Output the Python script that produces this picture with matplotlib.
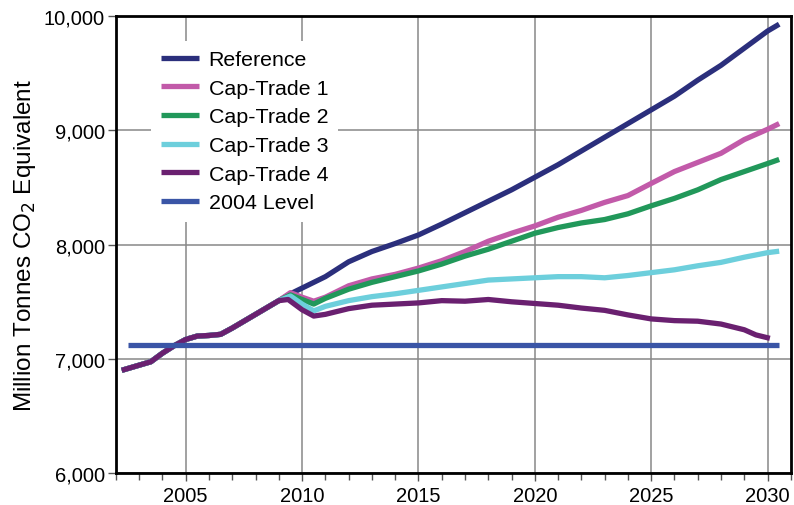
import matplotlib
matplotlib.use("Agg")
import matplotlib.pyplot as plt
from matplotlib.ticker import FuncFormatter, MultipleLocator

plt.rcParams['font.family'] = ['Liberation Sans', 'DejaVu Sans']

# ---------- Data ----------
early_years = [2002.25, 2002.75, 2003.5, 2004, 2004.5, 2005, 2005.5, 2006, 2006.5, 2007, 2008, 2009]
early_vals  = [6900, 6930, 6975, 7050, 7115, 7170, 7200, 7205, 7215, 7270, 7390, 7510]

late_years = [2009.5, 2010, 2010.5, 2011, 2012, 2013, 2014, 2015, 2016, 2017, 2018, 2019, 2020,
              2021, 2022, 2023, 2024, 2025, 2026, 2027, 2028, 2029, 2030, 2030.5]

reference = [7570, 7620, 7670, 7720, 7850, 7940, 8010, 8085, 8180, 8280, 8380, 8480, 8590,
             8700, 8820, 8940, 9060, 9180, 9300, 9440, 9570, 9720, 9870, 9930]
cap_trade_1 = [7580, 7540, 7505, 7540, 7640, 7700, 7740, 7795, 7860, 7940, 8030, 8100, 8164,
               8240, 8300, 8370, 8430, 8536, 8640, 8720, 8800, 8920, 9010, 9060]
cap_trade_2 = [7560, 7520, 7480, 7530, 7610, 7670, 7720, 7770, 7830, 7900, 7960, 8030, 8100,
               8150, 8190, 8220, 8270, 8340, 8405, 8480, 8570, 8640, 8710, 8746]
cap_trade_3 = [7550, 7480, 7420, 7460, 7510, 7545, 7570, 7600, 7630, 7660, 7690, 7700, 7710,
               7720, 7720, 7710, 7730, 7755, 7780, 7815, 7845, 7890, 7930, 7943]

ct4_years = [2009.4, 2010, 2010.5, 2011, 2012, 2013, 2014, 2015, 2016, 2017, 2018, 2019, 2020,
             2021, 2022, 2023, 2024, 2025, 2026, 2027, 2028, 2029, 2029.5, 2030.1]
cap_trade_4 = [7520, 7430, 7375, 7390, 7440, 7470, 7480, 7490, 7510, 7505, 7520, 7500, 7485,
               7470, 7445, 7425, 7385, 7350, 7335, 7330, 7305, 7255, 7210, 7180]

level_2004 = 7120
level_span = [2002.5, 2030.5]

series = [
    ("Reference",   late_years, reference,   "#2b2f7c"),
    ("Cap-Trade 1", late_years, cap_trade_1, "#c25aa9"),
    ("Cap-Trade 2", late_years, cap_trade_2, "#21985a"),
    ("Cap-Trade 3", late_years, cap_trade_3, "#6dcfdc"),
    ("Cap-Trade 4", ct4_years,  cap_trade_4, "#6a2070"),
]

# ---------- Plot ----------
fig = plt.figure(figsize=(7.94, 5.06), dpi=100)
ax = fig.add_axes([0.146, 0.063, 0.850, 0.903])

lw = 3.8
for name, xs, ys, color in series:
    ax.plot(early_years + xs, early_vals + ys, color=color, lw=lw, label=name,
            solid_capstyle="butt", zorder=3)
ax.plot(level_span, [level_2004, level_2004], color="#3a55a6", lw=lw, label="2004 Level",
        solid_capstyle="butt", zorder=3)

ax.set_xlim(2002, 2031)
ax.set_ylim(6000, 10000)
ax.set_xticks([2005, 2010, 2015, 2020, 2025, 2030])
ax.xaxis.set_minor_locator(MultipleLocator(1))
ax.set_yticks([6000, 7000, 8000, 9000, 10000])
ax.yaxis.set_major_formatter(FuncFormatter(lambda v, p: f"{int(v):,}"))

ax.tick_params(axis="both", which="major", direction="out", length=6, width=1,
               color="#555555", labelsize=14.5)
ax.tick_params(axis="x", which="minor", direction="out", length=5, width=1, color="#555555")
ax.tick_params(axis="x", pad=3)
ax.tick_params(axis="y", pad=2)

ax.grid(True, which="major", color="#888888", lw=1.1, zorder=1)
for sp in ax.spines.values():
    sp.set_linewidth(2)
    sp.set_zorder(4)

ax.set_ylabel("Million Tonnes CO$_2$ Equivalent", fontsize=17.5, labelpad=4)

leg = ax.legend(loc="upper left", bbox_to_anchor=(0.036, 0.97), fontsize=15.4,
                frameon=True, framealpha=1, edgecolor="none", facecolor="white",
                handlelength=1.8, handletextpad=0.45, labelspacing=0.45,
                borderpad=0.45, fancybox=False)
leg.set_zorder(5)

fig.savefig("out.png", dpi=100)
